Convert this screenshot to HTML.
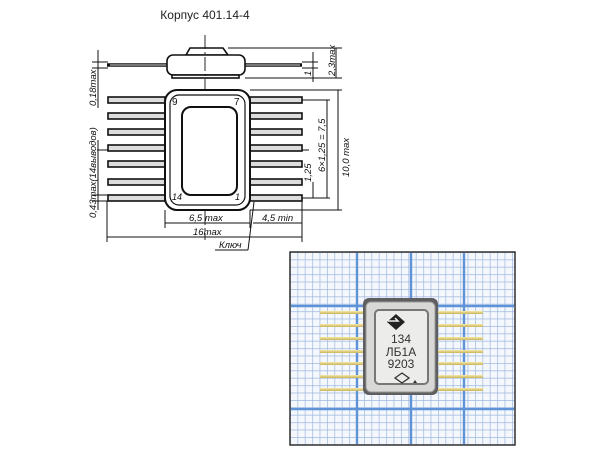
<!DOCTYPE html>
<html><head><meta charset="utf-8"><style>
html,body{margin:0;padding:0;background:#fff;width:600px;height:451px;overflow:hidden}
svg{display:block}
text{font-family:"Liberation Sans",sans-serif}
.it{font-style:italic;font-size:9.5px;fill:#111}
</style></head><body>
<svg width="600" height="451" viewBox="0 0 600 451" xmlns="http://www.w3.org/2000/svg">
<defs>
<pattern id="minor" x="290" y="252" width="7.4" height="7.4" patternUnits="userSpaceOnUse">
<rect width="7.4" height="7.4" fill="#f4f7fc"/>
<path d="M0 0H7.4M0 0V7.4" stroke="#9fb9df" stroke-width="1.4"/>
</pattern>
<linearGradient id="lead" x1="0" y1="0" x2="0" y2="1"><stop offset="0" stop-color="#f4e9a8"/><stop offset="1" stop-color="#c9b35a"/></linearGradient>
</defs>
<text x="205" y="19" font-size="12" text-anchor="middle" fill="#222">Корпус 401.14-4</text>

<g stroke="#111" fill="none" stroke-width="1.6">
<line x1="107" y1="65" x2="302" y2="65" stroke-width="3.5"/>
<line x1="110" y1="65" x2="300" y2="65" stroke="#ddd" stroke-width="1"/>
<path d="M186 55 L190 48 H223 L228 55 Z" fill="#fff"/>
<rect x="167" y="55" width="78" height="20" rx="6" fill="#fff"/>
<rect x="172" y="75" width="67" height="3" fill="#fff"/>
<line x1="205" y1="35" x2="205" y2="240" stroke-width="0.9" stroke-dasharray="14 3 2 3"/>
<line x1="97" y1="150" x2="310" y2="150" stroke-width="0.9" stroke-dasharray="14 3 2 3"/>
<g fill="#ddd" stroke-width="1.6">
<rect x="108" y="97" width="57" height="6"/><rect x="108" y="113" width="57" height="6"/><rect x="108" y="129" width="57" height="6"/><rect x="108" y="145" width="57" height="6"/><rect x="108" y="161" width="57" height="6"/><rect x="108" y="179" width="57" height="6"/><rect x="108" y="195" width="57" height="6"/>
<rect x="250" y="97" width="52" height="6"/><rect x="250" y="113" width="52" height="6"/><rect x="250" y="129" width="52" height="6"/><rect x="250" y="145" width="52" height="6"/><rect x="250" y="161" width="52" height="6"/><rect x="250" y="179" width="52" height="6"/><rect x="250" y="195" width="52" height="6"/>
</g>
<rect x="165" y="90" width="85" height="120" rx="12" fill="#fff" stroke-width="2"/>
<rect x="170" y="95" width="75" height="110" rx="9" stroke-width="1.2"/>
<rect x="182" y="107" width="55" height="88" rx="9" stroke-width="2"/>
<g stroke-width="1">
<line x1="228" y1="48" x2="342" y2="48"/><line x1="245" y1="78" x2="342" y2="78"/>
<line x1="302" y1="62" x2="318" y2="62"/><line x1="302" y1="68" x2="318" y2="68"/>
<line x1="313" y1="52" x2="313" y2="82"/>
<line x1="336" y1="48" x2="336" y2="78"/>
<line x1="250" y1="90" x2="342" y2="90"/><line x1="250" y1="210" x2="342" y2="210"/>
<line x1="338" y1="90" x2="338" y2="210"/>
<line x1="302" y1="100" x2="330" y2="100"/><line x1="302" y1="198" x2="330" y2="198"/>
<line x1="327" y1="100" x2="327" y2="198"/>
<line x1="313" y1="182" x2="313" y2="198"/>
<line x1="92" y1="62" x2="108" y2="62"/><line x1="92" y1="68" x2="108" y2="68"/>
<line x1="98" y1="50" x2="98" y2="108"/>
<line x1="92" y1="195" x2="108" y2="195"/><line x1="92" y1="201" x2="108" y2="201"/>
<line x1="98" y1="140" x2="98" y2="210"/>
<line x1="165" y1="210" x2="165" y2="228"/><line x1="250" y1="210" x2="250" y2="228"/>
<line x1="107" y1="201" x2="107" y2="242"/><line x1="302" y1="201" x2="302" y2="242"/>
<line x1="165" y1="223" x2="250" y2="223"/><line x1="253" y1="223" x2="302" y2="223"/>
<line x1="107" y1="237" x2="302" y2="237"/>
<line x1="215" y1="250" x2="248" y2="250"/><line x1="248" y1="250" x2="254" y2="202"/>
</g>
</g>
<g fill="#111">
<text x="172" y="105" font-size="10">9</text><text x="234" y="105" font-size="10">7</text>
<text x="172" y="200" font-size="9" font-style="italic">14</text><text x="235" y="200" font-size="9" font-style="italic">1</text>
<text class="it" x="189" y="221">6,5 max</text>
<text class="it" x="262" y="221">4,5 min</text>
<text class="it" x="193" y="235">16max</text>
<text class="it" x="219" y="248" font-size="8.5">Ключ</text>
<text class="it" transform="translate(335,76) rotate(-90)">2,3max</text>
<text class="it" transform="translate(311,76) rotate(-90)">1</text>
<text class="it" transform="translate(349,177) rotate(-90)">10,0 max</text>
<text class="it" transform="translate(325,172) rotate(-90)">6×1,25 = 7,5</text>
<text class="it" transform="translate(311,182) rotate(-90)">1,25</text>
<text class="it" transform="translate(96,106) rotate(-90)">0,18max</text>
<text class="it" transform="translate(96,218) rotate(-90)" font-size="8.5">0,43max(14выводов)</text>
</g>

<rect x="290" y="252" width="225" height="193" fill="url(#minor)" stroke="#222" stroke-width="1.4"/>
<g stroke="#5f93d8" stroke-width="2.4">
<line x1="357" y1="253" x2="357" y2="444"/><line x1="411" y1="253" x2="411" y2="444"/><line x1="464" y1="253" x2="464" y2="444"/>
<line x1="291" y1="306" x2="514" y2="306"/><line x1="291" y1="409" x2="514" y2="409"/>
</g>
<g fill="url(#lead)">
<rect x="320" y="311" width="45" height="3"/><rect x="320" y="324" width="45" height="3"/><rect x="320" y="337" width="45" height="3"/><rect x="320" y="350" width="45" height="3"/><rect x="320" y="362" width="45" height="3"/><rect x="320" y="375" width="45" height="3"/><rect x="320" y="388" width="45" height="3"/>
<rect x="436" y="311" width="47" height="3"/><rect x="436" y="324" width="47" height="3"/><rect x="436" y="337" width="47" height="3"/><rect x="436" y="350" width="47" height="3"/><rect x="436" y="362" width="47" height="3"/><rect x="436" y="375" width="47" height="3"/><rect x="436" y="388" width="47" height="3"/>
</g>
<rect x="363" y="298" width="75" height="97" rx="6" fill="#5e5e60"/>
<rect x="366" y="302" width="69" height="90" rx="5" fill="#d8d8d6" stroke="#9a9a9a"/>
<rect x="375" y="310" width="53" height="74" rx="4" fill="#ececea" stroke="#777" stroke-width="2"/>
<path d="M396 314 l9 8 -9 8 -9 -8z" fill="#222"/>
<path d="M388 321 h10 l-3 -3" stroke="#eee" stroke-width="1.5" fill="none"/>
<g fill="#333" font-size="12" text-anchor="middle">
<text x="401" y="343">134</text><text x="401" y="356">ЛБ1А</text><text x="401" y="368">9203</text>
</g>
<path d="M395 378 l7 -5 7 5 -7 5z" fill="none" stroke="#333" stroke-width="1.3"/>
<path d="M413 383 l2 -3 2 3z" fill="#333"/>
</svg>
</body></html>
